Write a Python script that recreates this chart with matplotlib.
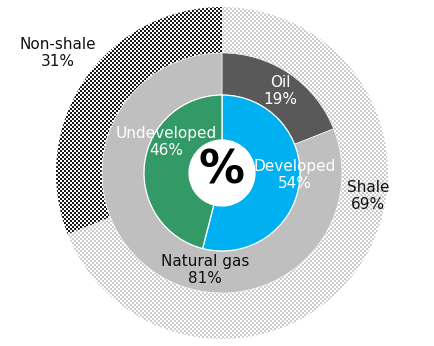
import numpy as np
import matplotlib
matplotlib.use("Agg")
import matplotlib.pyplot as plt
from matplotlib.patches import Circle

# Data
outer_labels = ["Shale", "Non-shale"]
outer_values = [69, 31]
middle_labels = ["Oil", "Natural gas"]
middle_values = [19, 81]
inner_labels = ["Developed", "Undeveloped"]
inner_values = [54, 46]

middle_colors = ["#595959", "#bfbfbf"]
inner_colors = ["#00b0f0", "#339966"]

W, H = 434, 346
cx, cy = 222, 173
R_OUT, R_MID, R_IN, R_HOLE = 166, 120, 78, 33

fig = plt.figure(figsize=(W / 100, H / 100), dpi=100)
ax = fig.add_axes([0, 0, 1, 1])
ax.set_axis_off()

# Outer ring (pattern fills)
outer_w, _ = ax.pie(outer_values, radius=R_OUT, startangle=90, counterclock=False,
                    colors=["none", "none"],
                    wedgeprops=dict(width=R_OUT - R_MID, linewidth=0))
# Middle ring
mid_w, _ = ax.pie(middle_values, radius=R_MID, startangle=90, counterclock=False,
                  colors=middle_colors,
                  wedgeprops=dict(width=R_MID - R_IN, edgecolor="white", linewidth=0.4))
# Inner ring
in_w, _ = ax.pie(inner_values, radius=R_IN, startangle=90, counterclock=False,
                 colors=inner_colors,
                 wedgeprops=dict(width=R_IN - R_HOLE, edgecolor="white", linewidth=0.9))

ax.add_patch(Circle((0, 0), R_HOLE, facecolor="white", edgecolor="none", zorder=3))

xlim = (-cx, W - cx)
ylim = (-(H - cy), cy)
ax.set_xlim(*xlim)
ax.set_ylim(*ylim)
ax.set_aspect("equal")

# Pixel-exact checker textures (2x2 px cells)
yy, xx = np.indices((H, W))
chk = ((yy // 2 + xx // 2) % 2).astype(bool)

def texture(c1, c2):
    img = np.empty(chk.shape + (3,))
    img[chk] = c1
    img[~chk] = c2
    return img

tex_shale = texture(np.array([0.80, 0.80, 0.80]), np.array([1, 1, 1.0]))
tex_non = texture(np.array([0.10, 0.10, 0.10]), np.array([1, 1, 1.0]))
for wedge, tex in zip(outer_w, [tex_shale, tex_non]):
    im = fig.figimage(tex, xo=0, yo=0, origin="upper", zorder=-1)
    im.set_clip_path(wedge)

fs = 11
def lab(name, val, x, y, color):
    ax.text(x, y, f"{name}\n{val}%", ha="center", va="center", fontsize=fs,
            color=color, linespacing=1.2, zorder=5)

lab(outer_labels[1], outer_values[1], 58 - cx, cy - 53, "#111111")
lab(outer_labels[0], outer_values[0], 368 - cx, cy - 196, "#111111")
lab(middle_labels[0], middle_values[0], 280 - cx, cy - 91, "white")
lab(middle_labels[1], middle_values[1], 205 - cx, cy - 270, "#111111")
lab(inner_labels[0], inner_values[0], 295 - cx, cy - 175, "white")
lab(inner_labels[1], inner_values[1], 166 - cx, cy - 142, "white")

ax.text(0, 2, "%", ha="center", va="center", fontsize=33, fontweight="bold",
        color="black", zorder=6)

fig.savefig("out.png", dpi=100)
